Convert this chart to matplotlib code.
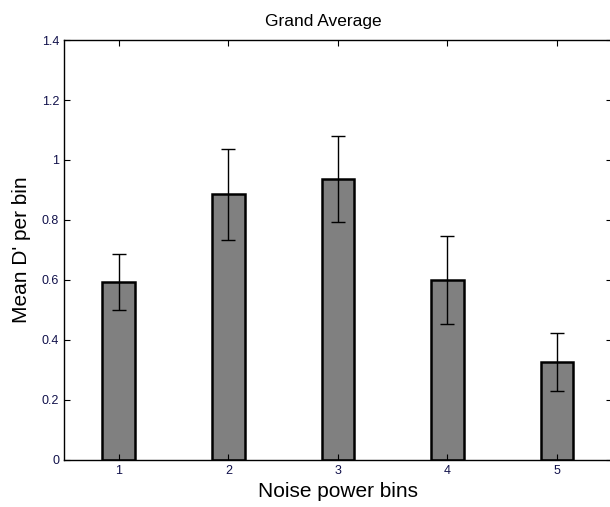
import numpy as np
import matplotlib.pyplot as plt

plt.rcParams['font.family'] = ['Liberation Sans', 'DejaVu Sans']

bins = [1, 2, 3, 4, 5]
mean_d = [0.593, 0.885, 0.937, 0.600, 0.327]
err = [0.092, 0.153, 0.144, 0.146, 0.096]

fig = plt.figure(figsize=(6.1, 5.07), dpi=100)
ax = fig.add_axes([0.105, 0.093, 0.898, 0.828])

ax.bar(bins, mean_d, width=0.3, color='#808080', edgecolor='black', linewidth=1.8)
ax.errorbar(bins, mean_d, yerr=err, fmt='none', ecolor='black', elinewidth=1, capsize=5, capthick=1)

ax.set_xlim(0.5, 5.5)
ax.set_ylim(0, 1.4)
ax.set_xticks(bins)
ax.set_yticks([0, 0.2, 0.4, 0.6, 0.8, 1.0, 1.2, 1.4])
ax.set_yticklabels(['0', '0.2', '0.4', '0.6', '0.8', '1', '1.2', '1.4'])
ax.tick_params(direction='in', top=True, right=True, length=4, labelsize=9, labelcolor='#10104a')
for s in ax.spines.values():
    s.set_linewidth(1)

ax.set_title("Grand Average", fontsize=12.5, pad=10, x=0.473)
ax.set_xlabel("Noise power bins", fontsize=15, labelpad=4)
ax.set_ylabel("Mean D' per bin", fontsize=15, labelpad=8)

fig.savefig("out.png", dpi=100)
